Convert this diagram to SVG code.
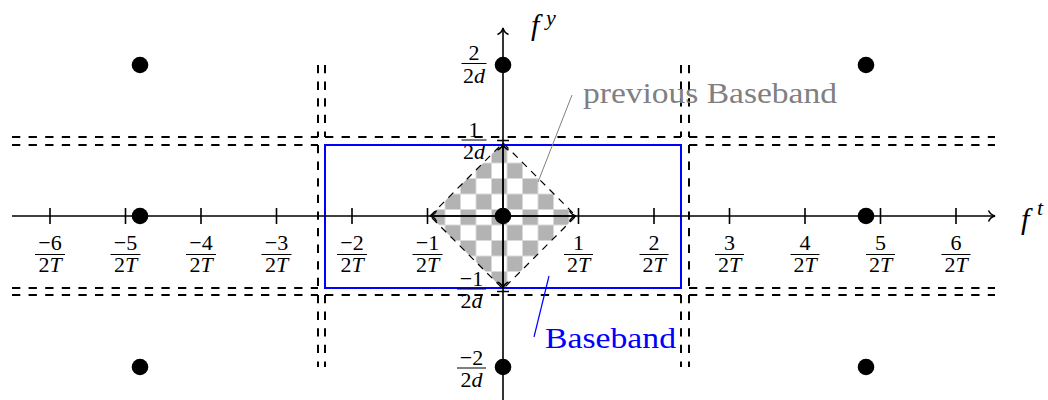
<svg xmlns="http://www.w3.org/2000/svg" width="1048" height="400" viewBox="0 0 1048 400">
<style>
.ax{stroke:#000;stroke-width:1.6;fill:none}
.tk{stroke:#000;stroke-width:1.6}
.dash{stroke:#000;stroke-width:2;stroke-dasharray:8.3 8.3;fill:none}
.dot{fill:#000}
.fr{font-family:"Liberation Serif","Times New Roman",serif;font-size:22px;fill:#000}
.bar{stroke:#000;stroke-width:1}
.it{font-style:italic}
.big{font-family:"Liberation Serif","Times New Roman",serif;font-size:30px}
</style>
<defs>
<marker id="to" viewBox="-8 -7 10 14" markerWidth="10" markerHeight="14" refX="0" refY="0" orient="auto" markerUnits="userSpaceOnUse">
<path d="M-6.5,-5.5 C-5,-2 -2,-0.5 0,0 C-2,0.5 -5,2 -6.5,5.5" fill="none" stroke="#000" stroke-width="1.5"/>
</marker>
<pattern id="checker" patternUnits="userSpaceOnUse" x="491.5" y="209.5" width="31" height="31">
<rect x="0" y="0" width="31" height="31" fill="#fff"/>
<rect x="0" y="0" width="15.5" height="15.5" fill="#b3b3b3"/>
<rect x="15.5" y="15.5" width="15.5" height="15.5" fill="#b3b3b3"/>
</pattern>
<clipPath id="view"><rect x="12" y="65" width="983" height="302"/></clipPath>
</defs>

<g id="tiles">
<path class="dash" d="M12,137H318 M325,137H681 M689,137H995"/>
<path class="dash" d="M12,145H318 M325,145H681 M689,145H995"/>
<path class="dash" d="M12,288H318 M325,288H681 M689,288H995"/>
<path class="dash" d="M12,295H318 M325,295H681 M689,295H995"/>
<path class="dash" d="M318,65V137 M318,145V288 M318,295V367"/>
<path class="dash" d="M325,65V137 M325,145V288 M325,295V367"/>
<path class="dash" d="M681,65V137 M681,145V288 M681,295V367"/>
<path class="dash" d="M689,65V137 M689,145V288 M689,295V367"/>
</g>

<g id="previous-baseband">
<path d="M430,216 L503,143 L576,216 L503,289 Z" fill="url(#checker)"/>
<path d="M430,216 L503,143 L576,216 L503,289 Z" fill="none" stroke="#000" stroke-width="1.2" stroke-dasharray="7 6"/>
</g>

<g id="baseband">
<rect x="325" y="145" width="356" height="143" fill="none" stroke="#0000ff" stroke-width="2"/>
</g>

<g id="axes">
<line class="ax" x1="12" y1="216" x2="995" y2="216" marker-end="url(#to)"/>
<line class="ax" x1="503" y1="400" x2="503" y2="28" marker-end="url(#to)"/>
<path class="tk" d="M50,208V224 M125.5,208V224 M201,208V224 M276.5,208V224 M352,208V224 M427.5,208V224 M578.5,208V224 M654,208V224 M729.5,208V224 M805,208V224 M880.5,208V224 M956,208V224"/>
<path class="tk" d="M497,140.5H509 M497,291.5H509"/>
<line class="ax" x1="503" y1="216" x2="430" y2="216" marker-end="url(#to)"/>
<line class="ax" x1="503" y1="216" x2="576" y2="216" marker-end="url(#to)"/>
<line class="ax" x1="503" y1="216" x2="503" y2="143.5" marker-end="url(#to)"/>
<line class="ax" x1="503" y1="216" x2="503" y2="288.5" marker-end="url(#to)"/>
<text class="big it" x="531" y="35">f</text>
<text class="fr it" x="546" y="25" font-size="20">y</text>
<text class="big it" x="1021" y="229">f</text>
<text class="fr it" x="1037" y="215" font-size="20">t</text>
</g>

<g id="points">
<circle class="dot" cx="140" cy="65" r="8.3"/>
<circle class="dot" cx="503" cy="65" r="8.3"/>
<circle class="dot" cx="866" cy="65" r="8.3"/>
<circle class="dot" cx="140" cy="216" r="8.3"/>
<circle class="dot" cx="503" cy="216" r="8.3"/>
<circle class="dot" cx="866" cy="216" r="8.3"/>
<circle class="dot" cx="140" cy="367" r="8.3"/>
<circle class="dot" cx="503" cy="367" r="8.3"/>
<circle class="dot" cx="866" cy="367" r="8.3"/>
</g>

<g id="xlabels" class="fr" text-anchor="middle">
<text x="50" y="250">−6</text><line class="bar" x1="35" y1="254.5" x2="65" y2="254.5"/><text x="50" y="272">2<tspan class="it">T</tspan></text>
<text x="125.5" y="250">−5</text><line class="bar" x1="110.5" y1="254.5" x2="140.5" y2="254.5"/><text x="125.5" y="272">2<tspan class="it">T</tspan></text>
<text x="201" y="250">−4</text><line class="bar" x1="186" y1="254.5" x2="216" y2="254.5"/><text x="201" y="272">2<tspan class="it">T</tspan></text>
<text x="276.5" y="250">−3</text><line class="bar" x1="261.5" y1="254.5" x2="291.5" y2="254.5"/><text x="276.5" y="272">2<tspan class="it">T</tspan></text>
<text x="352" y="250">−2</text><line class="bar" x1="337" y1="254.5" x2="367" y2="254.5"/><text x="352" y="272">2<tspan class="it">T</tspan></text>
<text x="427.5" y="250">−1</text><line class="bar" x1="412.5" y1="254.5" x2="442.5" y2="254.5"/><text x="427.5" y="272">2<tspan class="it">T</tspan></text>
<text x="578.5" y="250">1</text><line class="bar" x1="564" y1="254.5" x2="593" y2="254.5"/><text x="578.5" y="272">2<tspan class="it">T</tspan></text>
<text x="654" y="250">2</text><line class="bar" x1="639.5" y1="254.5" x2="668.5" y2="254.5"/><text x="654" y="272">2<tspan class="it">T</tspan></text>
<text x="729.5" y="250">3</text><line class="bar" x1="715" y1="254.5" x2="744" y2="254.5"/><text x="729.5" y="272">2<tspan class="it">T</tspan></text>
<text x="805" y="250">4</text><line class="bar" x1="790.5" y1="254.5" x2="819.5" y2="254.5"/><text x="805" y="272">2<tspan class="it">T</tspan></text>
<text x="880.5" y="250">5</text><line class="bar" x1="866" y1="254.5" x2="895" y2="254.5"/><text x="880.5" y="272">2<tspan class="it">T</tspan></text>
<text x="956" y="250">6</text><line class="bar" x1="941.5" y1="254.5" x2="970.5" y2="254.5"/><text x="956" y="272">2<tspan class="it">T</tspan></text>
</g>

<g id="ylabels" class="fr" text-anchor="middle">
<text x="474" y="60">2</text><line class="bar" x1="461.5" y1="63.5" x2="486.5" y2="63.5"/><text x="474" y="82.5">2<tspan class="it">d</tspan></text>
<text x="474" y="136.5">1</text><line class="bar" x1="461.5" y1="140" x2="486.5" y2="140"/><text x="474" y="159">2<tspan class="it">d</tspan></text>
<text x="471.5" y="285.5">−1</text><line class="bar" x1="457" y1="289" x2="486" y2="289"/><text x="471.5" y="308">2<tspan class="it">d</tspan></text>
<text x="471.5" y="364.5">−2</text><line class="bar" x1="457" y1="368" x2="486" y2="368"/><text x="471.5" y="387">2<tspan class="it">d</tspan></text>
</g>

<g id="annotations">
<line x1="538" y1="182" x2="572" y2="95" stroke="#808080" stroke-width="1"/>
<text class="big" x="583" y="103" fill="#808080" textLength="254" lengthAdjust="spacingAndGlyphs">previous Baseband</text>
<line x1="549" y1="276" x2="534" y2="337" stroke="#0000ff" stroke-width="1.2"/>
<text class="big" x="545" y="348" fill="#0000ff" textLength="131" lengthAdjust="spacingAndGlyphs">Baseband</text>
</g>
</svg>
